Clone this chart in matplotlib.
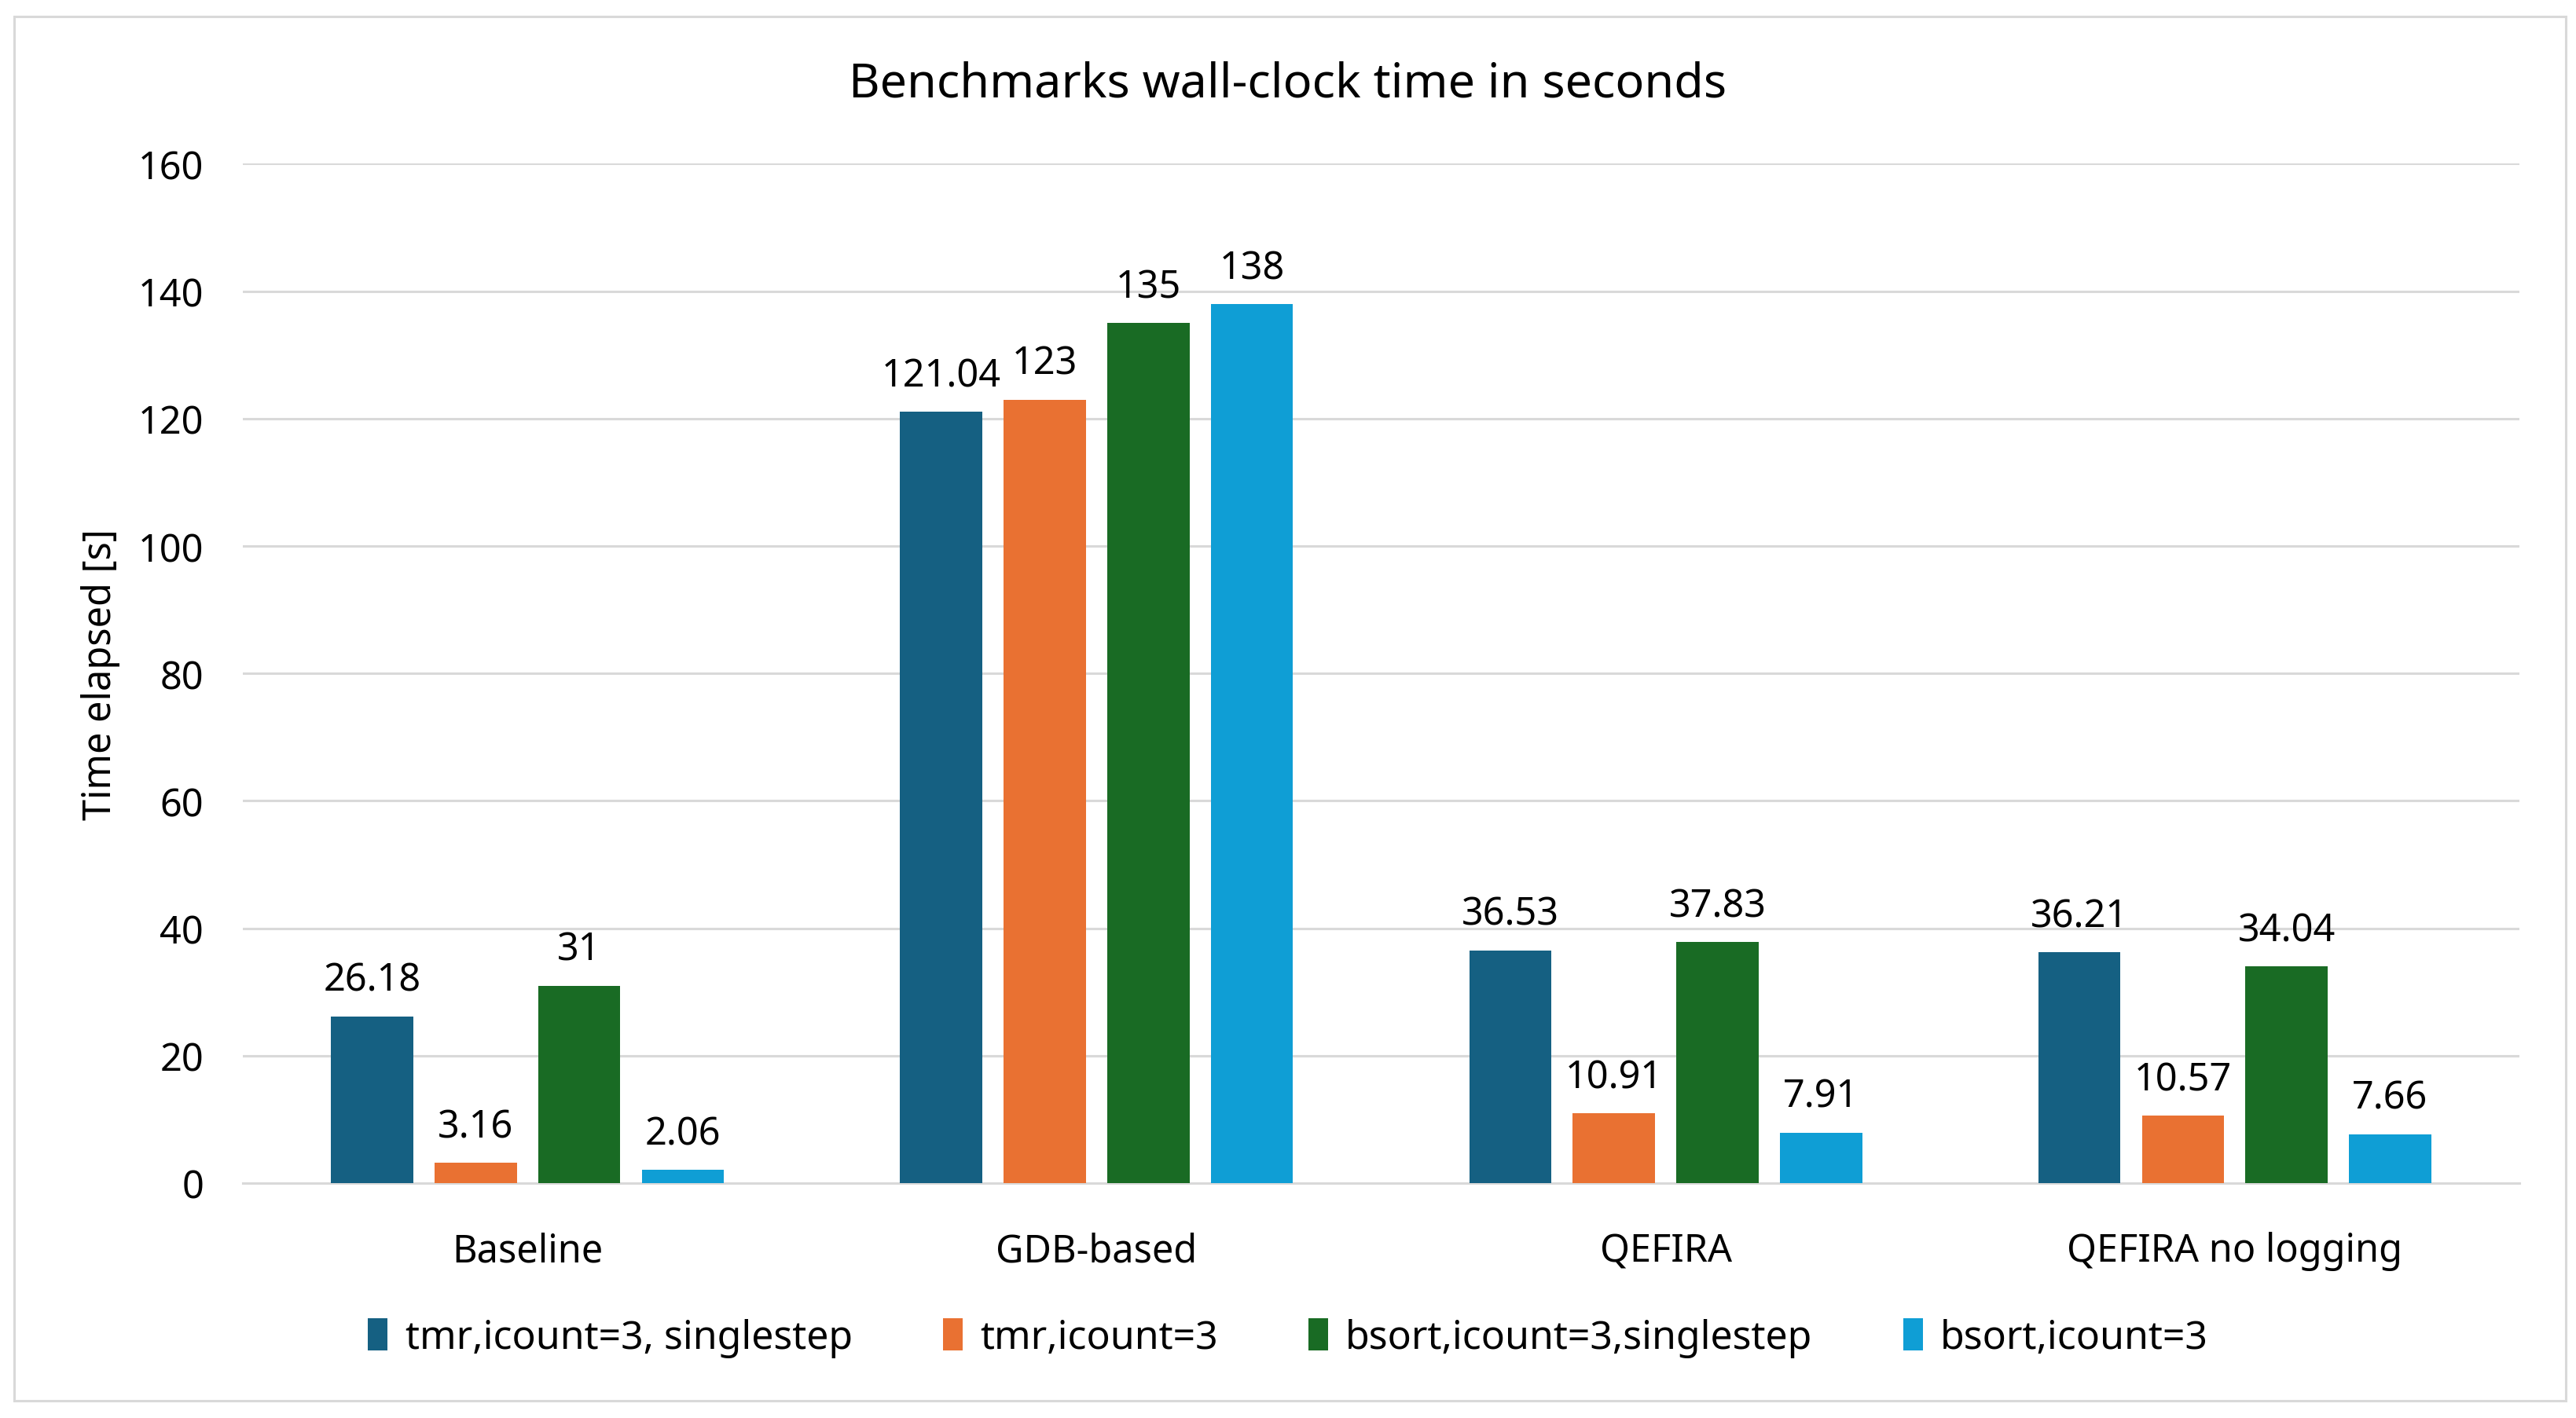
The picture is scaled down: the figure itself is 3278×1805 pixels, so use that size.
import numpy as np
import matplotlib.pyplot as plt
from matplotlib.patches import Rectangle

plt.rcParams['font.family'] = ['Noto Sans', 'DejaVu Sans']

categories = ['Baseline', 'GDB-based', 'QEFIRA', 'QEFIRA no logging']
series_names = ['tmr,icount=3, singlestep', 'tmr,icount=3',
                'bsort,icount=3,singlestep', 'bsort,icount=3']
values = [
    [26.18, 121.04, 36.53, 36.21],
    [3.16, 123, 10.91, 10.57],
    [31, 135, 37.83, 34.04],
    [2.06, 138, 7.91, 7.66],
]
labels = [
    ['26.18', '121.04', '36.53', '36.21'],
    ['3.16', '123', '10.91', '10.57'],
    ['31', '135', '37.83', '34.04'],
    ['2.06', '138', '7.91', '7.66'],
]
colors = ['#156082', '#E97132', '#196B24', '#0F9ED5']
yticks = [0, 20, 40, 60, 80, 100, 120, 140, 160]

fs = 17.5

fig = plt.figure(figsize=(16.39, 9.03), dpi=200)
ax = fig.add_axes([0.0943, 0.1656, 0.8837, 0.7184])

x = np.arange(len(categories))
width = 0.1445
pitch = 0.182
for i, (name, vals) in enumerate(zip(series_names, values)):
    pos = x + (i - 1.5) * pitch
    bars = ax.bar(pos, vals, width, color=colors[i], label=name, zorder=3)
    for b, lab in zip(bars, labels[i]):
        ax.annotate(lab, (b.get_x() + b.get_width() / 2, b.get_height()),
                    xytext=(0, 7.5), textcoords='offset points',
                    ha='center', va='bottom', fontsize=fs, color='#000000')

ax.set_xlim(-0.5, len(categories) - 0.5)
ax.set_ylim(0, 160)
ax.set_yticks(yticks)
ax.set_xticks(x)
ax.set_xticklabels(categories)
ax.tick_params(axis='both', length=0, labelsize=fs, colors='#000000')
ax.tick_params(axis='x', pad=22)
ax.tick_params(axis='y', pad=18)
ax.grid(axis='y', color='#D9D9D9', linewidth=1.1, zorder=0)
for s in ['top', 'right', 'left']:
    ax.spines[s].set_visible(False)
ax.spines['bottom'].set_color('#D9D9D9')
ax.spines['bottom'].set_linewidth(1.1)

ax.set_ylabel('Time elapsed [s]', fontsize=fs, labelpad=8)
fig.text(0.5, 0.94, 'Benchmarks wall-clock time in seconds', ha='center',
         va='center', fontsize=22)

fig.legend(loc='center', bbox_to_anchor=(0.5, 0.0565), ncol=4, frameon=False,
           fontsize=18.0, handlelength=0.5, handleheight=0.9, handletextpad=0.45,
           columnspacing=2.3)

fig.patches.append(Rectangle((0.0055, 0.012), 0.9905, 0.976, transform=fig.transFigure,
                             fill=False, edgecolor='#D9D9D9', linewidth=1.1))

fig.savefig('out.png', dpi=200, facecolor='white')
